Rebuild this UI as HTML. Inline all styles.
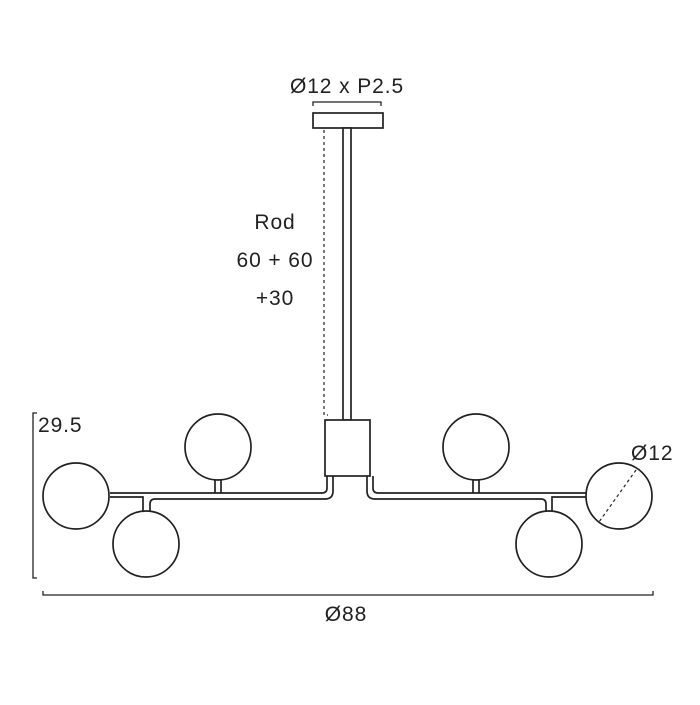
<!DOCTYPE html>
<html><head><style>html,body{margin:0;padding:0;background:#fff}text{letter-spacing:0.9px}</style></head><body>
<svg width="700" height="700" viewBox="0 0 700 700" xmlns="http://www.w3.org/2000/svg" font-family="Liberation Sans, sans-serif" fill="none" stroke="#222" stroke-width="1.7">
<text x="347" y="93" font-size="21" fill="#222" stroke="none" text-anchor="middle">Ø12 x P2.5</text>
<path d="M313 106 V102 H381 V106" stroke-width="1.3"/>
<rect x="313" y="113" width="70" height="15" fill="#fff"/>
<rect x="343" y="128" width="8" height="292" fill="#fff"/>
<path d="M324 130 V415 H328" stroke-dasharray="3,3" stroke-width="1.2"/>
<text x="275" y="229" font-size="21" fill="#222" stroke="none" text-anchor="middle">Rod</text>
<text x="275" y="267" font-size="21" fill="#222" stroke="none" text-anchor="middle">60 + 60</text>
<text x="275" y="305" font-size="21" fill="#222" stroke="none" text-anchor="middle">+30</text>
<path d="M110 493 H322 Q327 493 327 488 V476"/>
<path d="M110 497 H143 Q143 497 143 502 V511"/>
<path d="M150 511 V504 Q150 499 155 499 H325 Q333 499 333 491 V476"/>
<path d="M215 480 V493 M221 480 V493"/>
<path d="M590 493 H378 Q373 493 373 488 V476"/>
<path d="M590 497 H552 V511"/>
<path d="M546 511 V504 Q546 499 541 499 H375 Q367 499 367 491 V476"/>
<path d="M473 480 V493 M479 480 V493"/>
<rect x="325" y="420" width="45" height="56" fill="#fff"/>
<circle cx="76" cy="496" r="33" fill="#fff"/>
<circle cx="146" cy="544" r="33" fill="#fff"/>
<circle cx="218" cy="447" r="33" fill="#fff"/>
<circle cx="476" cy="447" r="33" fill="#fff"/>
<circle cx="549" cy="544" r="33" fill="#fff"/>
<circle cx="619" cy="496" r="33" fill="#fff"/>
<path d="M636 470 L599 522" stroke-dasharray="3,3" stroke-width="1.2"/>
<text x="631" y="460" font-size="21" fill="#222" stroke="none">Ø12</text>
<path d="M37 413 H33 V578 H37" stroke-width="1.3"/>
<text x="38" y="432" font-size="21" fill="#222" stroke="none">29.5</text>
<path d="M43 591 V595 H653 V591" stroke-width="1.3"/>
<text x="346" y="621" font-size="21" fill="#222" stroke="none" text-anchor="middle">Ø88</text>
</svg>
</body></html>
